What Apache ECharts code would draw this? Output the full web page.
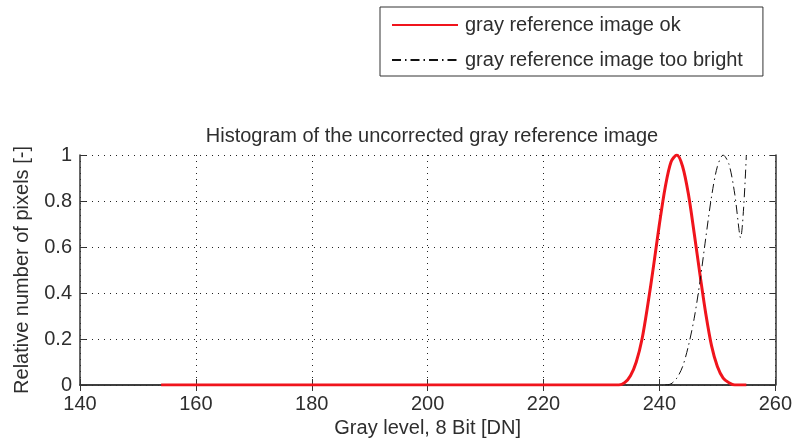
<!DOCTYPE html>
<html>
<head>
<meta charset="utf-8">
<script src="https://cdn.jsdelivr.net/npm/echarts@6/dist/echarts.min.js"></script>
<style>
    html, body { margin: 0; padding: 0; background: #fff; }
    #histo { width: 795px; height: 445px; }
</style>
</head>
<body>
<div id="histo"></div>
<script>
    // gray levels and relative pixel counts
    const okLevels = [154, 233, 234, 235, 236, 237, 238, 239, 240, 241, 242, 243, 244, 245, 246, 247, 248, 249, 250, 251, 252, 253, 254, 255];
    const okValues = [0, 0, 0.01, 0.04, 0.10, 0.20, 0.35, 0.52, 0.70, 0.86, 0.97, 1.00, 0.95, 0.83, 0.66, 0.48, 0.31, 0.17, 0.08, 0.03, 0.01, 0, 0, 0];
    const brightLevels = [241, 242, 243, 244, 245, 246, 247, 248, 249, 250, 251, 252, 253, 254, 255];
    const brightValues = [0, 0.005, 0.03, 0.08, 0.17, 0.29, 0.45, 0.64, 0.82, 0.95, 1.00, 0.96, 0.83, 0.64, 1.00];
    const xTicks = [140, 160, 180, 200, 220, 240, 260];
    const yTicks = [0, 0.2, 0.4, 0.6, 0.8, 1];

    const fontFamily = '"Liberation Sans", Arial, sans-serif';
    const textColor = '#2e2e2e';

    const toPairs = (xs, ys) => xs.map((x, i) => [x, ys[i]]);

    const histo = echarts.init(document.getElementById('histo'));
    const histoOption = {
        animation: false,
        textStyle: { fontFamily: fontFamily, color: textColor },
        title: {
            text: 'Histogram of the uncorrected gray reference image',
            left: 427,
            textAlign: 'center',
            top: 121,
            textStyle: { fontFamily: fontFamily, fontSize: 20, fontWeight: 'normal', color: textColor }
        },
        legend: {
            orient: 'vertical',
            left: 380,
            top: 7,
            padding: [8, 20, 6, 11],
            itemWidth: 66,
            itemHeight: 14,
            itemGap: 15,
            borderColor: '#333',
            borderWidth: 1,
            backgroundColor: '#fff',
            itemStyle: { opacity: 0 },
            textStyle: { fontFamily: fontFamily, fontSize: 20, color: textColor, padding: [0, 0, 0, 2] },
            data: ['gray reference image ok', 'gray reference image too bright']
        },
        grid: {
            left: 80,
            right: 18,
            top: 155,
            bottom: 60
        },
        xAxis: [{
            type: 'value',
            min: 140,
            max: 260,
            interval: 20,
            name: 'Gray level, 8 Bit [DN]',
            nameLocation: 'middle',
            nameGap: 33,
            nameTextStyle: { fontFamily: fontFamily, fontSize: 20, color: textColor },
            axisLine: { lineStyle: { color: '#333', width: 1.5 } },
            axisTick: { inside: true, length: 6, lineStyle: { color: '#333' } },
            axisLabel: {
                fontFamily: fontFamily, fontSize: 20, color: textColor, margin: 9,
                formatter: (v) => xTicks.includes(v) ? String(v) : ''
            },
            splitLine: { show: true, lineStyle: { color: '#222', type: [1, 5], width: 1 } }
        }, {
            type: 'value',
            position: 'top',
            min: 140,
            max: 260,
            interval: 20,
            axisLine: { show: true, lineStyle: { color: '#333', width: 1.5 } },
            axisTick: { show: true, inside: true, length: 6, lineStyle: { color: '#333' } },
            axisLabel: { show: false },
            splitLine: { show: false }
        }],
        yAxis: [{
            type: 'value',
            min: 0,
            max: 1,
            interval: 0.2,
            name: 'Relative number of pixels [-]',
            nameLocation: 'middle',
            nameGap: 48,
            nameTextStyle: { fontFamily: fontFamily, fontSize: 20, color: textColor },
            axisLine: { show: true, lineStyle: { color: '#333', width: 1.5 } },
            axisTick: { show: true, inside: true, length: 6, lineStyle: { color: '#333' } },
            axisLabel: {
                fontFamily: fontFamily, fontSize: 20, color: textColor, margin: 8,
                formatter: (v) => {
                    const t = yTicks.find((k) => Math.abs(k - v) < 1e-9);
                    return t === undefined ? '' : String(t);
                }
            },
            splitLine: { show: true, lineStyle: { color: '#222', type: [1, 5], width: 1 } }
        }, {
            type: 'value',
            position: 'right',
            min: 0,
            max: 1,
            interval: 0.2,
            axisLine: { show: true, lineStyle: { color: '#333', width: 1.5 } },
            axisTick: { show: true, inside: true, length: 6, lineStyle: { color: '#333' } },
            axisLabel: { show: false },
            splitLine: { show: false }
        }],
        series: [{
            name: 'gray reference image ok',
            type: 'line',
            xAxisIndex: 0,
            yAxisIndex: 0,
            smooth: 0.3,
            symbol: 'none',
            lineStyle: { color: '#f0141c', width: 3 },
            itemStyle: { color: '#f0141c' },
            data: toPairs(okLevels, okValues)
        }, {
            name: 'gray reference image too bright',
            type: 'line',
            xAxisIndex: 0,
            yAxisIndex: 0,
            smooth: 0.3,
            symbol: 'none',
            lineStyle: { color: '#111', width: 1, type: [9, 4, 1.5, 4] },
            itemStyle: { color: '#111' },
            data: toPairs(brightLevels, brightValues)
        }]
    };
    histo.setOption(histoOption);
    window.addEventListener('resize', () => {
        histo.resize();
    });
</script>
</body>
</html>
